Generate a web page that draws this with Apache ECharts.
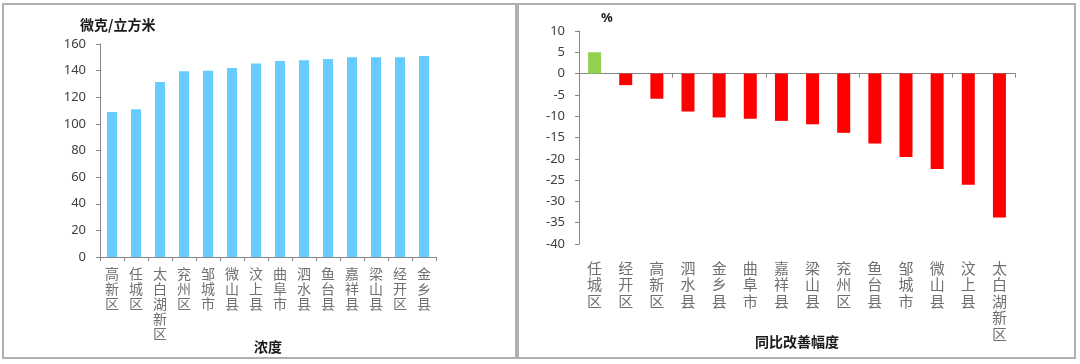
<!DOCTYPE html>
<html>
<head>
<meta charset="utf-8">
<script src="https://cdn.jsdelivr.net/npm/echarts@6/dist/echarts.min.js"></script>
<style>
html,body{margin:0;padding:0;background:#fff;}
#c{width:1080px;height:364px;}
</style>
</head>
<body>
<div id="c"></div>
<script>
// Left chart: concentration
var concCategories = ['高新区','任城区','太白湖新区','兖州区','邹城市','微山县','汶上县','曲阜市','泗水县','鱼台县','嘉祥县','梁山县','经开区','金乡县'];
var concValues = [109, 111, 131.5, 139.5, 140, 142, 145.3, 147.3, 147.8, 148.8, 150, 150, 150, 151];
var concTicks = [0, 20, 40, 60, 80, 100, 120, 140, 160];

// Right chart: year-on-year improvement
var impCategories = ['任城区','经开区','高新区','泗水县','金乡县','曲阜市','嘉祥县','梁山县','兖州区','鱼台县','邹城市','微山县','汶上县','太白湖新区'];
var impValues = [5.0, -2.7, -5.9, -8.9, -10.3, -10.6, -11.1, -11.9, -13.9, -16.4, -19.6, -22.4, -26.1, -33.8];
var impTicks = [-40, -35, -30, -25, -20, -15, -10, -5, 0, 5, 10];

var axisGray = '#868686';
var vert = function (v) { return v.split('').join('\n'); };

var chart = echarts.init(document.getElementById('c'), null, {renderer: 'canvas'});
chart.setOption({
  animation: false,
  backgroundColor: '#fff',
  textStyle: {fontFamily: '"Noto Sans CJK SC", "Noto Sans", sans-serif'},
  title: [
    {text: '微克/立方米', left: 75, top: 13, textStyle: {fontSize: 14, fontWeight: 'bold', color: '#1a1a1a', fontFamily: '"Noto Sans CJK SC", sans-serif'}},
    {text: '%', left: 596, top: 7, textStyle: {fontSize: 13, fontWeight: 'bold', color: '#1a1a1a', fontFamily: '"Noto Sans", sans-serif'}}
  ],
  graphic: [
    {type: 'rect', shape: {x: 3, y: 4, width: 513, height: 354}, style: {fill: 'none', stroke: '#b0b0b0', lineWidth: 2}},
    {type: 'rect', shape: {x: 518, y: 4, width: 557, height: 354}, style: {fill: 'none', stroke: '#b0b0b0', lineWidth: 2}}
  ],
  grid: [
    {left: 100, top: 44, width: 336, height: 213, containLabel: false},
    {left: 579, top: 31, width: 436, height: 213, containLabel: false}
  ],
  xAxis: [
    {
      type: 'category', gridIndex: 0, data: concCategories,
      name: '浓度', nameLocation: 'middle', nameGap: 83, nameMoveOverlap: false,
      nameTextStyle: {fontSize: 14, fontWeight: 'bold', color: '#1a1a1a', verticalAlign: 'top'},
      axisLine: {lineStyle: {color: axisGray}},
      axisTick: {show: true, alignWithLabel: false, length: 4, lineStyle: {color: axisGray}},
      axisLabel: {interval: 0, margin: 9, fontSize: 14, lineHeight: 15, color: '#707070', formatter: vert}
    },
    {
      type: 'category', gridIndex: 1, data: impCategories, position: 'bottom',
      axisLine: {onZero: true, lineStyle: {color: axisGray}},
      axisTick: {show: true, alignWithLabel: false, length: 4, lineStyle: {color: axisGray}},
      axisLabel: {show: false}
    },
    {
      type: 'category', gridIndex: 1, data: impCategories, position: 'bottom',
      name: '同比改善幅度', nameLocation: 'middle', nameGap: 91, nameMoveOverlap: false,
      nameTextStyle: {fontSize: 14, fontWeight: 'bold', color: '#1a1a1a', verticalAlign: 'top'},
      axisLine: {show: false, onZero: false},
      axisTick: {show: false},
      axisLabel: {interval: 0, margin: 16, fontSize: 15, lineHeight: 16.5, color: '#707070', formatter: vert}
    }
  ],
  yAxis: [
    {
      type: 'value', gridIndex: 0, min: 0, max: 160, interval: 20,
      axisLine: {show: true, lineStyle: {color: axisGray}},
      axisTick: {show: true, length: 4, lineStyle: {color: axisGray}},
      splitLine: {show: false},
      axisLabel: {margin: 14, fontSize: 13, color: '#404040', fontFamily: '"Noto Sans", sans-serif',
        formatter: function (v) { return concTicks.indexOf(v) >= 0 ? String(v) : ''; }}
    },
    {
      type: 'value', gridIndex: 1, min: -40, max: 10, interval: 5,
      axisLine: {show: true, lineStyle: {color: axisGray}},
      axisTick: {show: true, length: 4, lineStyle: {color: axisGray}},
      splitLine: {show: false},
      axisLabel: {margin: 14, fontSize: 13, color: '#404040', fontFamily: '"Noto Sans", sans-serif',
        formatter: function (v) { return impTicks.indexOf(v) >= 0 ? String(v) : ''; }}
    }
  ],
  series: [
    {
      type: 'bar', xAxisIndex: 0, yAxisIndex: 0, data: concValues,
      barWidth: 10, itemStyle: {color: '#66ccff'}
    },
    {
      type: 'bar', xAxisIndex: 1, yAxisIndex: 1,
      data: impValues.map(function (v) { return {value: v, itemStyle: {color: v >= 0 ? '#92d050' : '#ff0000'}}; }),
      barWidth: 13
    }
  ]
});
</script>
</body>
</html>
